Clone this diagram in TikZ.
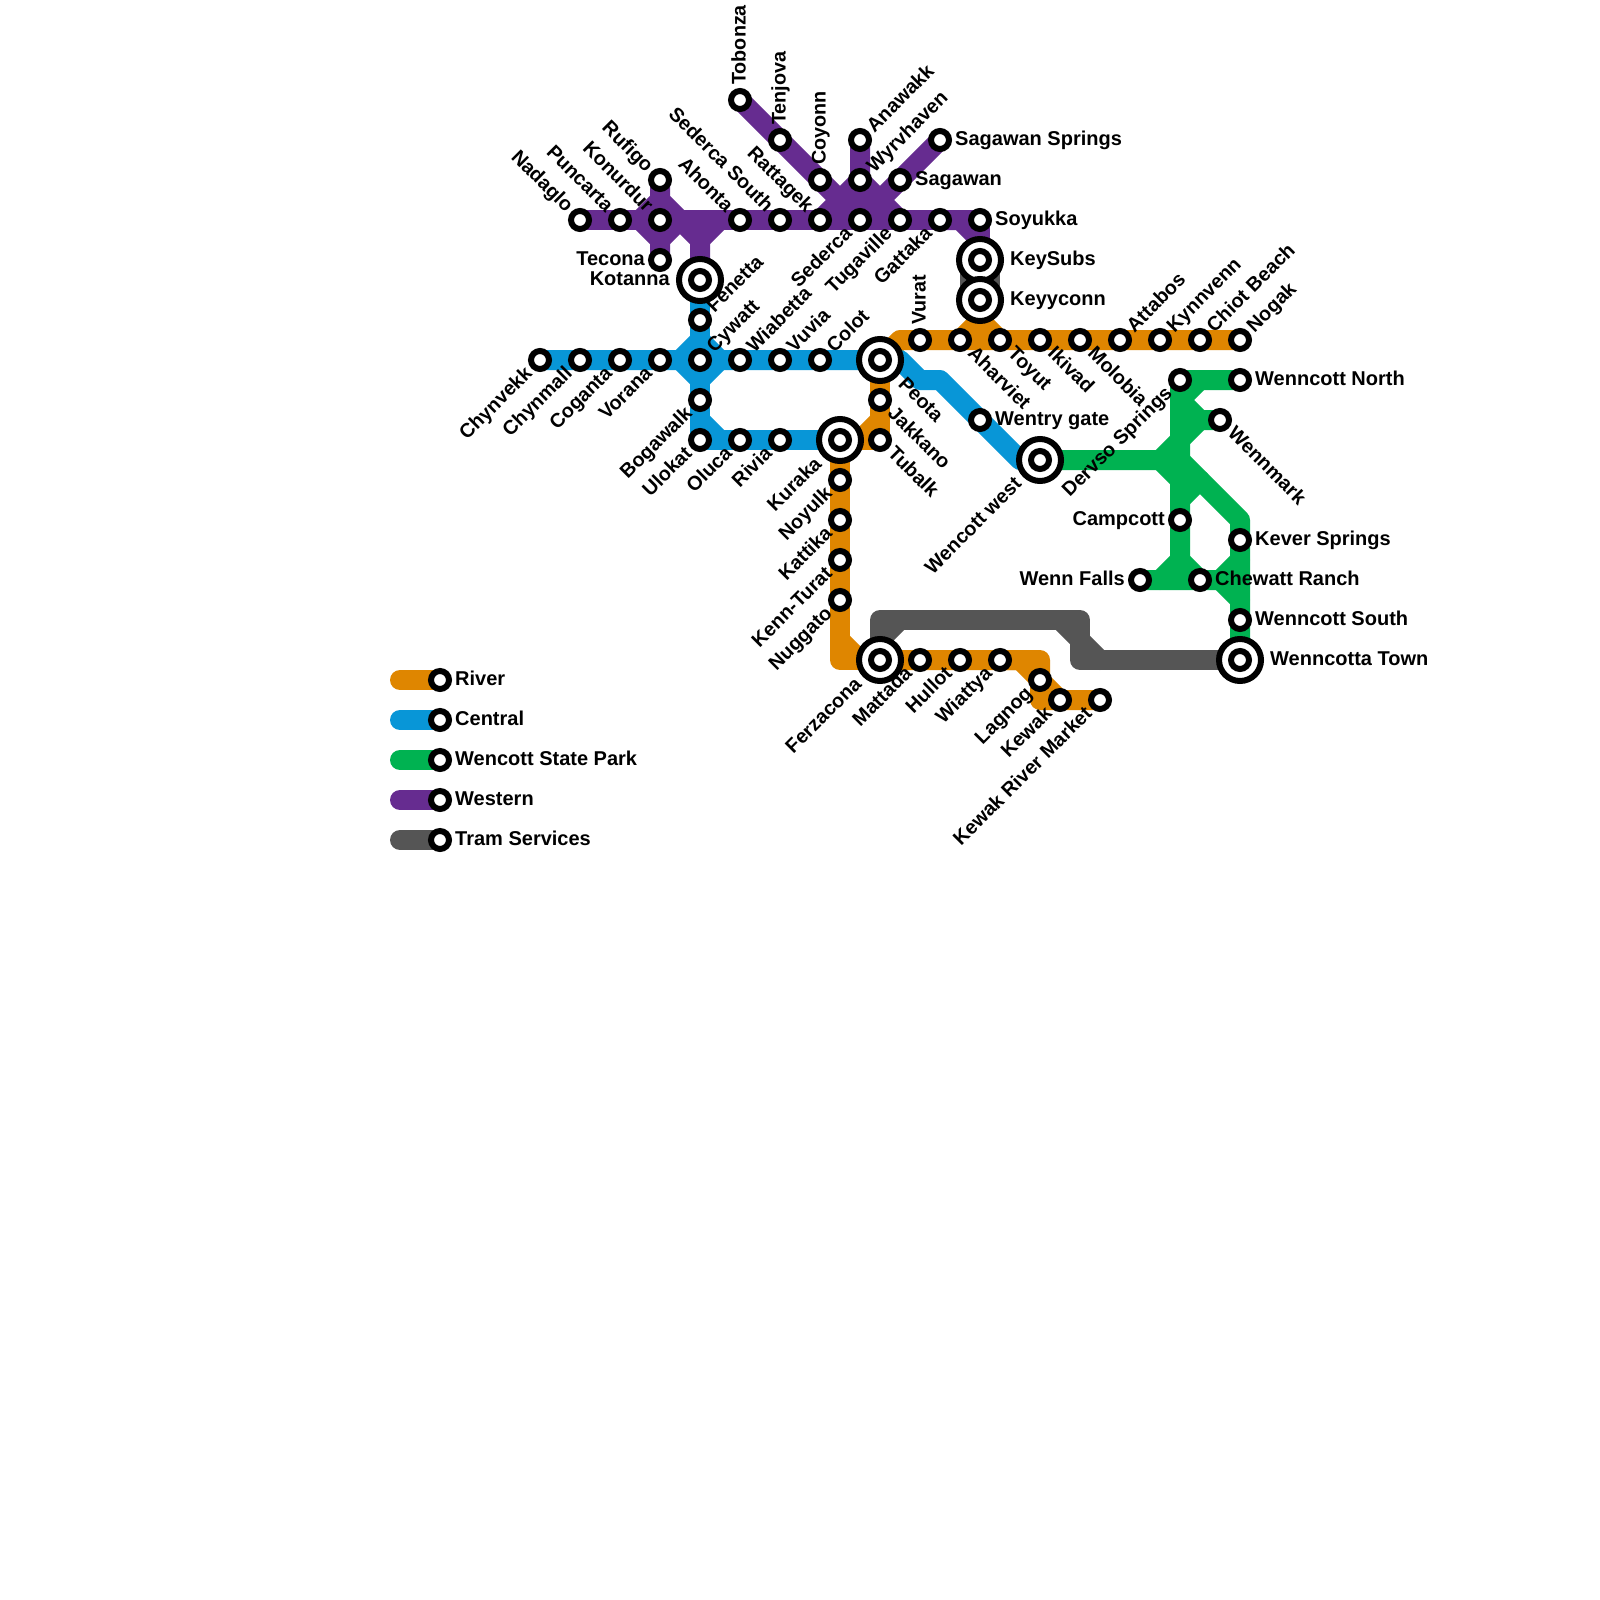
\documentclass[tikz,border=0pt]{standalone}
\usepackage{fontspec}
\setmainfont{Liberation Sans}
\usetikzlibrary{calc,backgrounds}
\definecolor{riverc}{HTML}{DF8600}
\definecolor{centralc}{HTML}{0896D7}
\definecolor{parkc}{HTML}{00B251}
\definecolor{westc}{HTML}{662C90}
\definecolor{tramc}{HTML}{555555}
\tikzset{
  stop/.style={circle,draw=black,fill=white,line width=6pt,minimum size=18pt,inner sep=0pt,outer sep=0pt},
  hub/.style={circle,draw=black,fill=white,line width=6pt,minimum size=42pt,inner sep=0pt,outer sep=0pt,
    path picture={\draw[line width=6pt,black] (path picture bounding box.center) circle (9pt);}},
  lab/.style={font=\bfseries\fontsize{20}{24}\selectfont,inner sep=0pt,text=black},
  tilted/.style={font=\bfseries\fontsize{19.75}{24}\selectfont},
  ang0/.style={},
  ang45/.style={tilted},
  ang-45/.style={tilted},
  ang90/.style={tilted},
  route/.style={line width=20pt,line cap=round,line join=round},
}
% station: id, x, y, angle, anchor side (west/east), text
\newcommand{\stA}[6]{\node[stop] (#1) at (#2,#3) {};\labA{#1}{#4}{#5}{#6}{15pt}}
\newcommand{\hbA}[6]{\node[hub] (#1) at (#2,#3) {};\labA{#1}{#4}{#5}{#6}{30pt}}
\newcommand{\labA}[5]{%
  \ifx#3w\node[lab,ang#2,rotate=#2,anchor=base west] (l#1) at ($(#1.center)+(#2:#5)+(#2-90:5.5pt)$) {#4};%
  \else\node[lab,ang#2,rotate=#2,anchor=base east] (l#1) at ($(#1.center)+(#2+180:#5)+(#2-90:5.5pt)$) {#4};\fi}
\begin{document}
\begin{tikzpicture}[x=1pt,y=-1pt]
\useasboundingbox (0,0) rectangle (1600,1600);
% Western
\stA{nadaglo}{580}{220}{-45}{e}{Nadaglo}
\stA{puncarta}{620}{220}{-45}{e}{Puncarta}
\stA{konurdur}{660}{220}{-45}{e}{Konurdur}
\stA{rufigo}{660}{180}{-45}{e}{Rufigo}
\stA{tecona}{660}{260}{0}{e}{Tecona}
\stA{ahonta}{740}{220}{-45}{e}{Ahonta}
\stA{sedercasouth}{780}{220}{-45}{e}{Sederca South}
\stA{rattagek}{820}{220}{-45}{e}{Rattagek}
\stA{sederca}{860}{220}{45}{e}{Sederca}
\stA{tugaville}{900}{220}{45}{e}{Tugaville}
\stA{gattaka}{940}{220}{45}{e}{Gattaka}
\stA{soyukka}{980}{220}{0}{w}{Soyukka}
\stA{tobonza}{740}{100}{90}{w}{Tobonza}
\stA{tenjova}{780}{140}{90}{w}{Tenjova}
\stA{coyonn}{820}{180}{90}{w}{Coyonn}
\stA{anawakk}{860}{140}{45}{w}{Anawakk}
\stA{wyrvhaven}{860}{180}{45}{w}{Wyrvhaven}
\stA{sagawansprings}{940}{140}{0}{w}{Sagawan Springs}
\stA{sagawan}{900}{180}{0}{w}{Sagawan}
\hbA{kotanna}{700}{280}{0}{e}{Kotanna}
\hbA{keysubs}{980}{260}{0}{w}{KeySubs}
\hbA{keyyconn}{980}{300}{0}{w}{Keyyconn}
% Central
\stA{fenetta}{700}{320}{45}{w}{Fenetta}
\stA{chynvekk}{540}{360}{45}{e}{Chynvekk}
\stA{chynmall}{580}{360}{45}{e}{Chynmall}
\stA{coganta}{620}{360}{45}{e}{Coganta}
\stA{vorana}{660}{360}{45}{e}{Vorana}
\stA{cywatt}{700}{360}{45}{w}{Cywatt}
\stA{wiabetta}{740}{360}{45}{w}{Wiabetta}
\stA{vuvia}{780}{360}{45}{w}{Vuvia}
\stA{colot}{820}{360}{45}{w}{Colot}
\hbA{peota}{880}{360}{-45}{w}{Peota}
\stA{bogawalk}{700}{400}{45}{e}{Bogawalk}
\stA{ulokat}{700}{440}{45}{e}{Ulokat}
\stA{oluca}{740}{440}{45}{e}{Oluca}
\stA{rivia}{780}{440}{45}{e}{Rivia}
\hbA{kuraka}{840}{440}{45}{e}{Kuraka}
\stA{wentry}{980}{420}{0}{w}{Wentry gate}
\hbA{wencottwest}{1040}{460}{45}{e}{Wencott west}
% River
\stA{jakkano}{880}{400}{-45}{w}{Jakkano}
\stA{tubalk}{880}{440}{-45}{w}{Tubalk}
\stA{noyulk}{840}{480}{45}{e}{Noyulk}
\stA{kattika}{840}{520}{45}{e}{Kattika}
\stA{kennturat}{840}{560}{45}{e}{Kenn-Turat}
\stA{nuggato}{840}{600}{45}{e}{Nuggato}
\hbA{ferzacona}{880}{660}{45}{e}{Ferzacona}
\stA{mattada}{920}{660}{45}{e}{Mattada}
\stA{hullot}{960}{660}{45}{e}{Hullot}
\stA{wiattya}{1000}{660}{45}{e}{Wiattya}
\stA{lagnog}{1040}{680}{45}{e}{Lagnog}
\stA{kewak}{1060}{700}{45}{e}{Kewak}
\stA{kewakmarket}{1100}{700}{45}{e}{Kewak River Market}
\stA{vurat}{920}{340}{90}{w}{Vurat}
\stA{aharviet}{960}{340}{-45}{w}{Aharviet}
\stA{toyut}{1000}{340}{-45}{w}{Toyut}
\stA{ikivad}{1040}{340}{-45}{w}{Ikivad}
\stA{molobia}{1080}{340}{-45}{w}{Molobia}
\stA{attabos}{1120}{340}{45}{w}{Attabos}
\stA{kynnvenn}{1160}{340}{45}{w}{Kynnvenn}
\stA{chiotbeach}{1200}{340}{45}{w}{Chiot Beach}
\stA{nogak}{1240}{340}{45}{w}{Nogak}
% Wencott State Park
\stA{dervso}{1180}{380}{45}{e}{Dervso Springs}
\stA{wenncottnorth}{1240}{380}{0}{w}{Wenncott North}
\stA{wennmark}{1220}{420}{-45}{w}{Wennmark}
\stA{campcott}{1180}{520}{0}{e}{Campcott}
\stA{kever}{1240}{540}{0}{w}{Kever Springs}
\stA{wennfalls}{1140}{580}{0}{e}{Wenn Falls}
\stA{chewatt}{1200}{580}{0}{w}{Chewatt Ranch}
\stA{wenncottsouth}{1240}{620}{0}{w}{Wenncott South}
\hbA{wenncottatown}{1240}{660}{0}{w}{Wenncotta Town}
% Legend
\stA{kriver}{440}{680}{0}{w}{River}
\stA{kcentral}{440}{720}{0}{w}{Central}
\stA{kpark}{440}{760}{0}{w}{Wencott State Park}
\stA{kwest}{440}{800}{0}{w}{Western}
\stA{ktram}{440}{840}{0}{w}{Tram Services}
\foreach \y in {680,720,760,800,840} \coordinate (k\y) at (400,\y);
% bends
\foreach \x/\y in {640/220,660/200,660/240,680/220,700/240,720/220,960/220,980/240,
  700/340,680/360,720/360,700/380,700/420,720/440,900/360,920/380,940/380,1020/460,
  860/440,880/420,840/660,840/640,860/660,1040/660,1020/660,1040/700,900/340,980/320,
  1160/460,1180/440,1180/480,1180/400,1200/380,1200/420,1180/460,1240/520,1200/480,1180/500,
  1180/560,1160/580,1220/580,1240/560,1240/600,
  880/620,1080/620,1080/660,1060/620,1080/640,1100/660,880/640,900/620}
  \coordinate (b\x-\y) at (\x,\y);
\coordinate (gt) at (980,274);
\coordinate (gb) at (980,286);
\begin{pgfonlayer}{background}
  \fill[white] (0,0) rectangle (1600,1600);
  % River
  \begin{scope}[route,draw=riverc]
    \draw (kuraka.center) -- (tubalk.center) -- (jakkano.center) -- (peota.center);
    \draw (kuraka.center) -- (b860-440) -- (b880-420);
    \draw (kuraka.center) -- (noyulk.center) -- (kattika.center) -- (kennturat.center) -- (nuggato.center) -- (b840-660) -- (ferzacona.center);
    \draw (b840-640) -- (b860-660);
    \draw (ferzacona.center) -- (mattada.center) -- (hullot.center) -- (wiattya.center) -- (b1040-660) -- (lagnog.center) -- (kewak.center) -- (kewakmarket.center);
    \draw (wiattya.center) -- (b1020-660) -- (lagnog.center) -- (b1040-700) -- (kewak.center);
    \draw (peota.center) -- (b900-340) -- (vurat.center) -- (nogak.center);
    \draw (aharviet.center) -- (b980-320) -- (keyyconn.center);
    \draw (toyut.center) -- (b980-320);
    \draw (kriver.center) -- (k680);
  \end{scope}
  % Central
  \begin{scope}[route,draw=centralc]
    \draw (chynvekk.center) -- (peota.center) -- (b900-360) -- (b920-380) -- (b940-380) -- (wentry.center) -- (b1020-460) -- (wencottwest.center);
    \draw (kotanna.center) -- (fenetta.center) -- (cywatt.center) -- (bogawalk.center) -- (ulokat.center) -- (kuraka.center);
    \draw (b680-360) -- (b700-340) -- (b720-360) -- (b700-380) -- cycle;
    \draw (b700-420) -- (b720-440);
    \draw (kcentral.center) -- (k720);
  \end{scope}
  % Park
  \begin{scope}[route,draw=parkc]
    \draw (wencottwest.center) -- (b1160-460) -- (b1180-440);
    \draw (b1160-460) -- (b1180-480);
    \draw (wenncottnorth.center) -- (dervso.center) -- (campcott.center) -- (b1180-560) -- (b1160-580);
    \draw (b1180-560) -- (chewatt.center);
    \draw (b1180-400) -- (b1200-380);
    \draw (b1180-400) -- (b1200-420) -- (wennmark.center);
    \draw (b1180-440) -- (b1200-420);
    \draw (b1180-460) -- (b1240-520) -- (kever.center) -- (wenncottsouth.center) -- (wenncottatown.center);
    \draw (b1200-480) -- (b1180-500);
    \draw (wennfalls.center) -- (b1220-580) -- (b1240-560);
    \draw (b1220-580) -- (b1240-600);
    \draw (kpark.center) -- (k760);
  \end{scope}
  % Western
  \begin{scope}[route,draw=westc]
    \draw (nadaglo.center) -- (soyukka.center) -- (keysubs.center);
    \draw (gattaka.center) -- (b960-220) -- (b980-240) -- (keysubs.center);
    \draw (rufigo.center) -- (b660-200) -- (b680-220) -- (b700-240) -- (kotanna.center);
    \draw (tecona.center) -- (b660-240) -- (b640-220) -- (b660-200);
    \draw (b660-240) -- (b680-220);
    \draw (b720-220) -- (b700-240);
    \draw (tobonza.center) -- (tenjova.center) -- (coyonn.center) -- (sederca.center);
    \draw (rattagek.center) -- (wyrvhaven.center) -- (anawakk.center);
    \draw (sagawansprings.center) -- (sagawan.center) -- (sederca.center);
    \draw (wyrvhaven.center) -- (tugaville.center);
    \draw (wyrvhaven.center) -- (sederca.center);
    \draw (kwest.center) -- (k800);
  \end{scope}
  % Tram
  \begin{scope}[route,draw=tramc]
    \draw (ferzacona.center) -- (b880-620) -- (b1080-620) -- (b1080-660) -- (wenncottatown.center);
    \draw (b880-640) -- (b900-620);
    \draw (b1060-620) -- (b1080-640) -- (b1100-660);
    \draw (ktram.center) -- (k840);
    \draw[line width=40pt,line cap=butt] (gt) -- (gb);
  \end{scope}
\end{pgfonlayer}
\end{tikzpicture}
\end{document}
